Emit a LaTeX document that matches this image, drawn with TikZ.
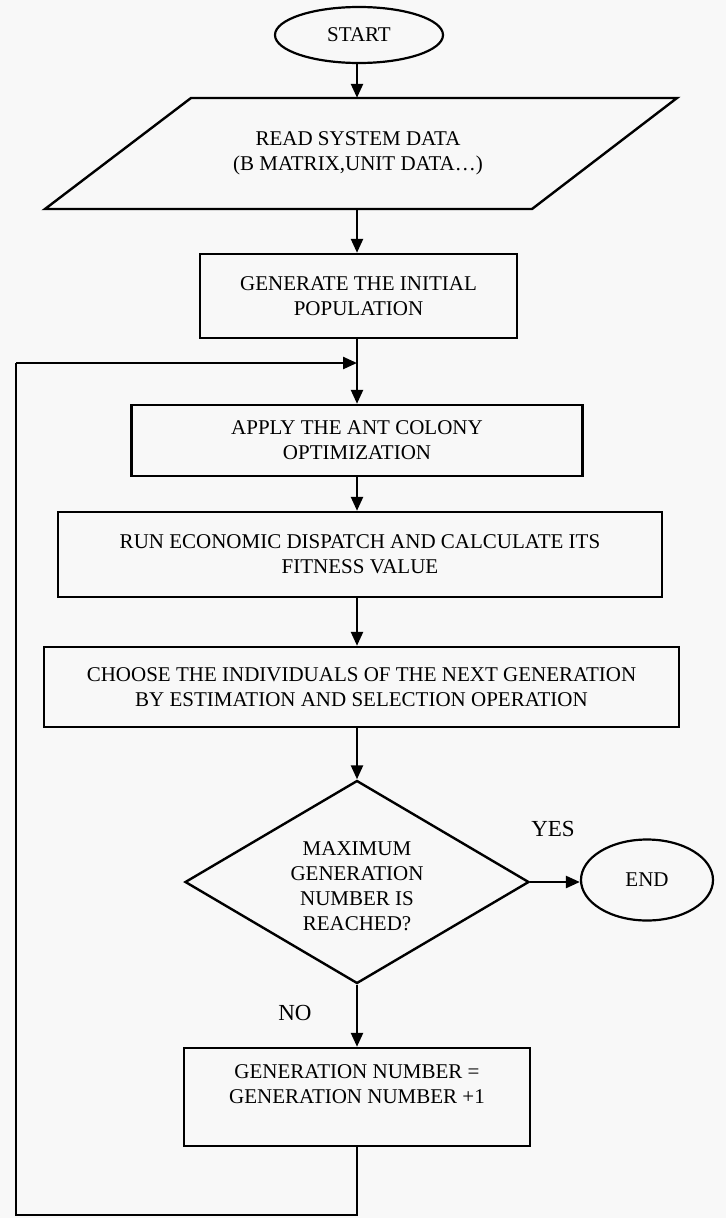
\documentclass[tikz,border=0pt]{standalone}
\usepackage{fontspec}
\setmainfont{Liberation Serif}
\usetikzlibrary{shapes.geometric,arrows.meta}
\definecolor{paper}{RGB}{248,248,248}
\begin{document}
\begin{tikzpicture}[x=1pt,y=-1pt,
  every node/.style={font=\fontsize{21}{25}\selectfont, align=center},
  procbox/.style={draw, line width=2.4pt, rectangle, inner sep=0pt},
  term/.style={draw, line width=2.2pt, ellipse, inner sep=0pt},
  decide/.style={draw, line width=2.4pt, diamond, inner sep=0pt},
  flow/.style={line width=2.4pt, -{Triangle[length=14pt,width=12pt]}},
  plainline/.style={line width=2.4pt}]
\fill[paper] (0,0) rectangle (726,1218);
\useasboundingbox (0,0) rectangle (726,1218);

\node[term, minimum width=168pt, minimum height=56pt] (start) at (359,35) {START};

% parallelogram
\node[minimum width=300pt, minimum height=111pt, inner sep=0pt] (read) at (358,153.5) {READ SYSTEM DATA\\(B MATRIX,UNIT DATA\dots)};
\draw[line width=2.4pt, line join=miter] (191,98) -- (677,98) -- (532,209) -- (45,209) -- cycle;

\node[procbox, minimum width=317pt, minimum height=84pt] (gen) at (358.5,296) {GENERATE THE INITIAL\\POPULATION};
\node[procbox, minimum width=451pt, minimum height=71pt] (apply) at (357,440.5) {APPLY THE ANT COLONY\\OPTIMIZATION};
\node[procbox, minimum width=604pt, minimum height=85pt] (run) at (360,554.5) {RUN ECONOMIC DISPATCH AND CALCULATE ITS\\FITNESS VALUE};
\node[procbox, minimum width=635pt, minimum height=80pt] (choose) at (361.5,687) {CHOOSE THE INDIVIDUALS OF THE NEXT GENERATION\\BY ESTIMATION AND SELECTION OPERATION};
\node[decide, minimum width=344pt, minimum height=203pt, aspect=1.7] (max) at (357,882) {};
\node (maxt) at (357,886) {MAXIMUM\\GENERATION\\NUMBER IS\\REACHED?};
\node[term, minimum width=132pt, minimum height=81pt] (end) at (647,880) {END};
\node[font=\fontsize{23}{26}\selectfont] (yes) at (553,829) {YES};
\node[font=\fontsize{23}{26}\selectfont] (no) at (295,1013) {NO};
\node[procbox, minimum width=346pt, minimum height=98pt] (gnum) at (357,1097) {GENERATION NUMBER =\\GENERATION NUMBER +1\\\mbox{}};

\coordinate (join) at (357,363);
\coordinate (bl) at (16,1215);
\coordinate (tl) at (16,363);
\coordinate (br) at (357,1215);

\draw[flow] (start.south -| join) -- (read.north -| join);
\draw[flow] (read.south -| join) -- (gen.north -| join);
\draw[plainline] (gen.south -| join) -- (join);
\draw[flow] (join) -- (apply.north -| join);
\draw[flow] (apply.south -| join) -- (run.north -| join);
\draw[flow] (run.south -| join) -- (choose.north -| join);
\draw[flow] (choose.south -| join) -- (max.north);
\draw[flow] (max.east) -- (max.east -| end.west);
\draw[flow] (max.south) -- (gnum.north);
\draw[plainline, line join=miter] (gnum.south) -- (br) -- (bl) -- (tl);
\draw[flow] (tl) -- (join);
\end{tikzpicture}
\end{document}
